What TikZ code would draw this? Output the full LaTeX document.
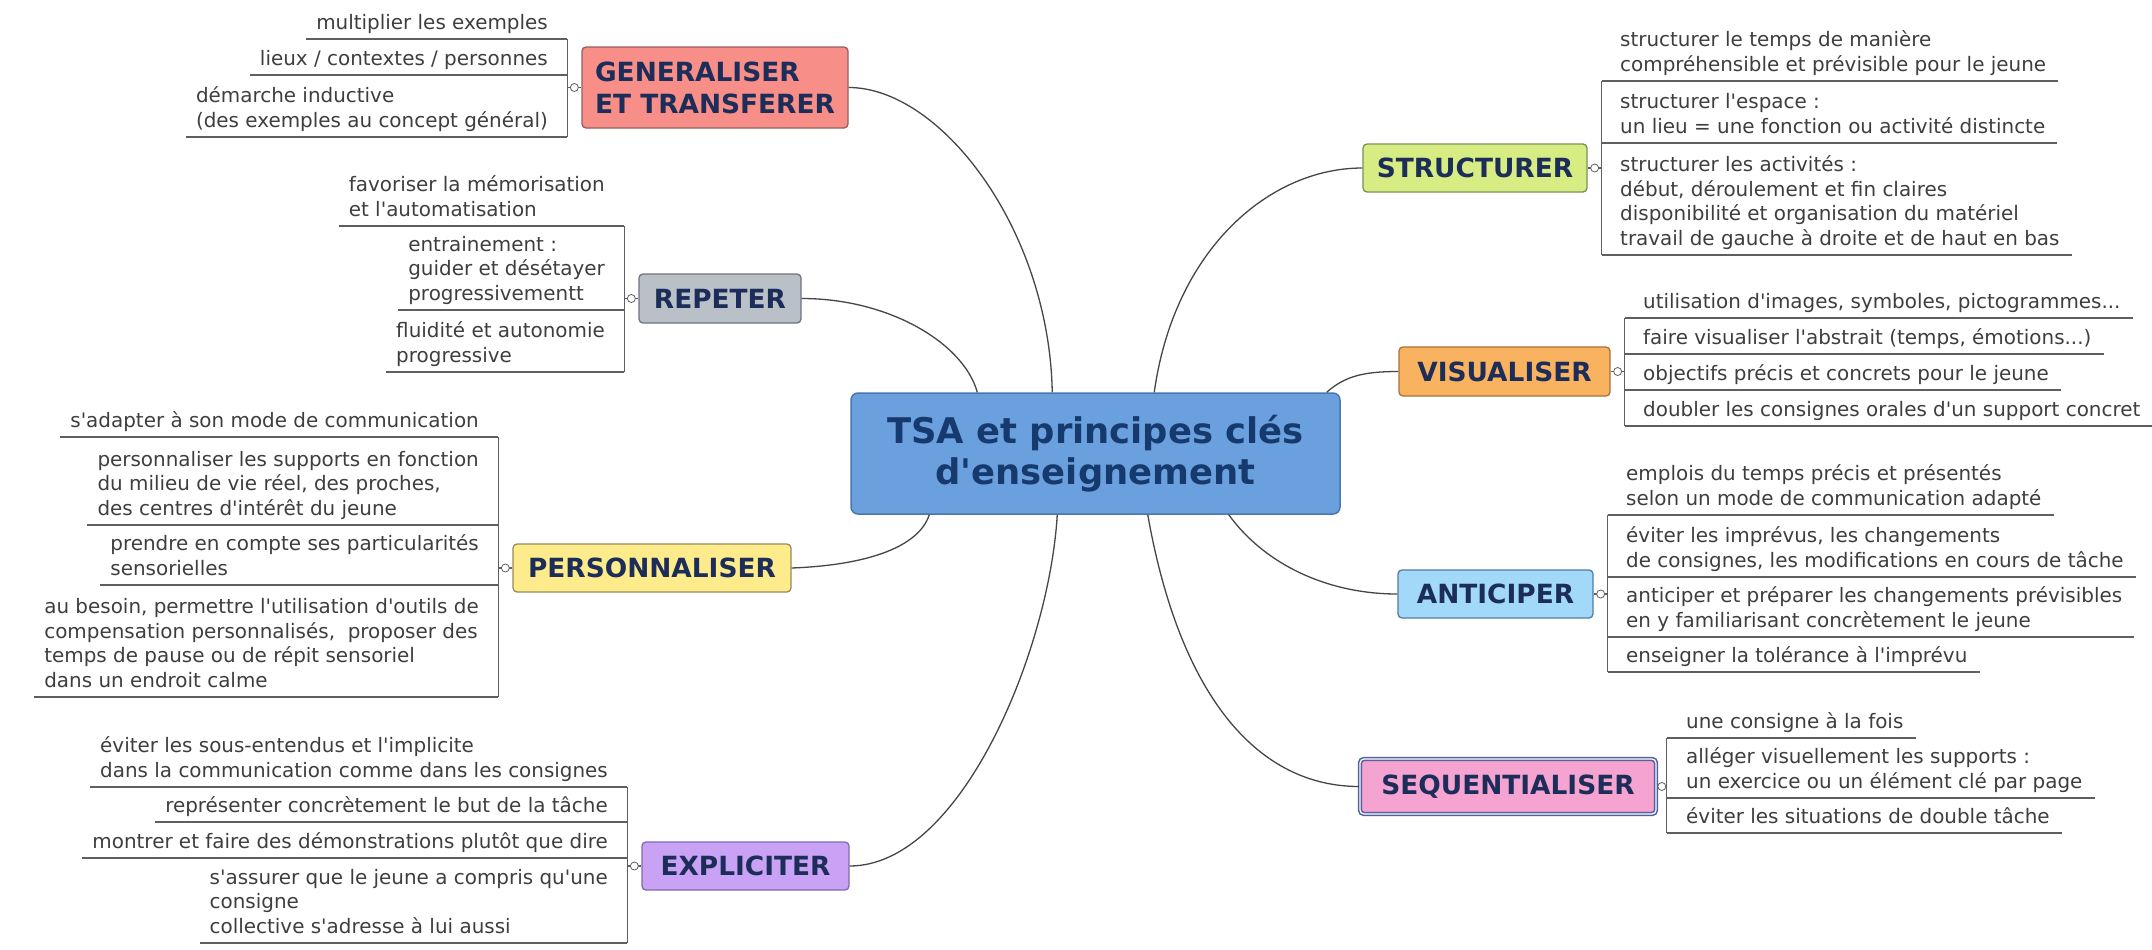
\documentclass[tikz,border=0pt]{standalone}
\usepackage{fontspec}
\setmainfont{DejaVu Sans}
\newfontfamily\dvs{DejaVu Sans}
\definecolor{cfill}{RGB}{106,160,222}
\definecolor{cdraw}{RGB}{74,118,178}
\definecolor{ctext}{RGB}{22,58,110}
\definecolor{lbl}{RGB}{27,45,88}
\definecolor{itxt}{RGB}{62,62,62}
\definecolor{ln}{RGB}{95,95,95}
\definecolor{cn}{RGB}{70,70,70}
\definecolor{genf}{RGB}{247,142,135}\definecolor{gend}{RGB}{150,95,95}
\definecolor{repf}{RGB}{186,192,200}\definecolor{repd}{RGB}{110,115,125}
\definecolor{perf}{RGB}{254,236,140}\definecolor{perd}{RGB}{150,140,90}
\definecolor{expf}{RGB}{201,162,246}\definecolor{expd}{RGB}{130,105,175}
\definecolor{strf}{RGB}{215,237,132}\definecolor{strd}{RGB}{120,145,85}
\definecolor{visf}{RGB}{248,178,96}\definecolor{visd}{RGB}{165,115,60}
\definecolor{antf}{RGB}{162,217,248}\definecolor{antd}{RGB}{80,125,165}
\definecolor{seqf}{RGB}{245,163,208}\definecolor{seqd}{RGB}{85,98,160}
\begin{document}
\begin{tikzpicture}[x=1bp,y=-1bp,
  central/.style={rectangle, rounded corners=7bp, draw=cdraw, line width=1.5bp, fill=cfill,
    minimum width=489bp, minimum height=121bp, inner sep=0pt, align=center, text=ctext,
    font=\dvs\fontsize{35.5}{41}\selectfont\bfseries},
  branch/.style={rectangle, rounded corners=4bp, line width=1.3bp, inner sep=0pt, align=left,
    text=lbl, font=\dvs\fontsize{26.5}{32}\selectfont\bfseries},
  knob/.style={circle, draw=ln, fill=white, line width=0.8bp, inner sep=0pt, minimum size=8bp},
  litem/.style={anchor=south east, inner xsep=0pt, inner ysep=1.5bp, align=left, text=itxt,
    font=\dvs\fontsize{20}{25}\selectfont},
  ritem/.style={anchor=south west, inner xsep=0pt, inner ysep=1.5bp, align=left, text=itxt,
    font=\dvs\fontsize{20}{25}\selectfont},
  uline/.style={draw=ln, line width=1.2bp},
  conn/.style={draw=cn, line width=1.3bp}]
\useasboundingbox (0,0) rectangle (2152,950);
\fill[white] (0,0) rectangle (2152,950);

% central
\node[central] (c) at (1095.5,453.5) {TSA et principes clés\\d'enseignement};

% branches
\node[branch, fill=genf, draw=gend, minimum width=266bp, minimum height=81bp] (gen) at (715,87.5) {GENERALISER\\ET TRANSFERER};
\node[branch, fill=repf, draw=repd, minimum width=162bp, minimum height=49bp] (rep) at (720,298.5) {REPETER};
\node[branch, fill=perf, draw=perd, minimum width=278bp, minimum height=48bp] (per) at (652,568) {PERSONNALISER};
\node[branch, fill=expf, draw=expd, minimum width=207bp, minimum height=48bp] (exp) at (745.5,866) {EXPLICITER};
\node[branch, fill=strf, draw=strd, minimum width=224bp, minimum height=48bp] (str) at (1475,168) {STRUCTURER};
\node[branch, fill=visf, draw=visd, minimum width=211bp, minimum height=49bp] (vis) at (1504.5,371.5) {VISUALISER};
\node[branch, fill=antf, draw=antd, minimum width=195bp, minimum height=48bp] (ant) at (1495.5,594) {ANTICIPER};
\node[branch, fill=seqf, draw=seqd, line width=1.6bp, double=white, double distance=1.2bp, minimum width=296bp, minimum height=55bp] (seq) at (1508,786.5) {SEQUENTIALISER};

% connectors centre -> branches
\draw[conn] (gen.east) .. controls +(92,0) and +(-3,-163) .. ([xshift=202bp]c.north west);
\draw[conn] (rep.east) .. controls +(89,0) and +(-13,-48) .. ([xshift=127bp]c.north west);
\draw[conn] (per.east) .. controls +(79,-3) and +(-10,31) .. ([xshift=79bp]c.south west);
\draw[conn] (exp.east) .. controls +(111,0) and +(-8,136) .. ([xshift=207bp]c.south west);
\draw[conn] ([xshift=304bp]c.north west) .. controls +(20,-143) and +(-93,0) .. (str.west);
\draw[conn] ([xshift=-14bp]c.north east) .. controls +(18,-16) and +(-35,0) .. (vis.west);
\draw[conn] ([xshift=-112bp]c.south east) .. controls +(37,51) and +(-68,0) .. (ant.west);
\draw[conn] ([xshift=-193bp]c.south east) .. controls +(33,186) and +(-99,0) .. (seq.west);

% bracket coordinates
\coordinate (gv) at ([xshift=-14bp]gen.west);
\coordinate (rv) at ([xshift=-14bp]rep.west);
\coordinate (pv) at ([xshift=-14bp]per.west);
\coordinate (ev) at ([xshift=-14bp]exp.west);
\coordinate (sv) at ([xshift=14bp]str.east);
\coordinate (vv) at ([xshift=14bp]vis.east);
\coordinate (av) at ([xshift=14bp]ant.east);
\coordinate (qv) at ([xshift=10bp]seq.east);

% GENERALISER items
\node[litem] (g1) at (548,39) {multiplier les exemples\strut};
\node[litem] (g2) at (548,75) {lieux / contextes / personnes\strut};
\node[litem] (g3) at (548,137) {démarche inductive\\(des exemples au concept général)\strut};
% REPETER items
\node[litem] (r1) at (605,226) {favoriser la mémorisation\\et l'automatisation\strut};
\node[litem] (r2) at (605,310) {entrainement :\\guider et désétayer\\progressivementt\strut};
\node[litem] (r3) at (605,372) {fluidité et autonomie\\progressive\strut};
% PERSONNALISER items
\node[litem] (p1) at (479,437) {s'adapter à son mode de communication\strut};
\node[litem] (p2) at (479,525) {personnaliser les supports en fonction\\du milieu de vie réel, des proches,\\des centres d'intérêt du jeune\strut};
\node[litem] (p3) at (479,585) {prendre en compte ses particularités\\sensorielles\strut};
\node[litem] (p4) at (479,697) {au besoin, permettre l'utilisation d'outils de\\compensation personnalisés,\ \ proposer des\\temps de pause ou de répit sensoriel\\dans un endroit calme\strut};
% EXPLICITER items
\node[litem] (e1) at (608,787) {éviter les sous-entendus et l'implicite\\dans la communication comme dans les consignes\strut};
\node[litem] (e2) at (608,822) {représenter concrètement le but de la tâche\strut};
\node[litem] (e3) at (608,858) {montrer et faire des démonstrations plutôt que dire\strut};
\node[litem] (e4) at (608,943) {s'assurer que le jeune a compris qu'une\\consigne\\collective s'adresse à lui aussi\strut};
% STRUCTURER items
\node[ritem] (s1) at (1620,81) {structurer le temps de manière\\compréhensible et prévisible pour le jeune\strut};
\node[ritem] (s2) at (1620,143) {structurer l'espace :\\un lieu = une fonction ou activité distincte\strut};
\node[ritem] (s3) at (1620,255) {structurer les activités :\\début, déroulement et fin claires\\disponibilité et organisation du matériel\\travail de gauche à droite et de haut en bas\strut};
% VISUALISER items
\node[ritem] (v1) at (1643,318) {utilisation d'images, symboles, pictogrammes...\strut};
\node[ritem] (v2) at (1643,354) {faire visualiser l'abstrait (temps, émotions...)\strut};
\node[ritem] (v3) at (1643,390) {objectifs précis et concrets pour le jeune\strut};
\node[ritem] (v4) at (1643,426) {doubler les consignes orales d'un support concret\strut};
% ANTICIPER items
\node[ritem] (a1) at (1626,515) {emplois du temps précis et présentés\\selon un mode de communication adapté\strut};
\node[ritem] (a2) at (1626,577) {éviter les imprévus, les changements\\de consignes, les modifications en cours de tâche\strut};
\node[ritem] (a3) at (1626,637) {anticiper et préparer les changements prévisibles\\en y familiarisant concrètement le jeune\strut};
\node[ritem] (a4) at (1626,672) {enseigner la tolérance à l'imprévu\strut};
% SEQUENTIALISER items
\node[ritem] (q1) at (1686,738) {une consigne à la fois\strut};
\node[ritem] (q2) at (1686,798) {alléger visuellement les supports :\\un exercice ou un élément clé par page\strut};
\node[ritem] (q3) at (1686,833) {éviter les situations de double tâche\strut};

% underlines, left side
\foreach \n/\v in {g1/gv,g2/gv,g3/gv,r1/rv,r2/rv,r3/rv,p1/pv,p2/pv,p3/pv,p4/pv,e1/ev,e2/ev,e3/ev,e4/ev}
  \draw[uline] ([xshift=-10bp]\n.south west) -- (\n.south -| \v);
% underlines, right side
\foreach \n/\v in {s1/sv,s2/sv,s3/sv,v1/vv,v2/vv,v3/vv,v4/vv,a1/av,a2/av,a3/av,a4/av,q1/qv,q2/qv,q3/qv}
  \draw[uline] (\n.south -| \v) -- ([xshift=12bp]\n.south east);
% brackets
\draw[uline] (g1.south -| gv) -- (g3.south -| gv);
\draw[uline] (r1.south -| rv) -- (r3.south -| rv);
\draw[uline] (p1.south -| pv) -- (p4.south -| pv);
\draw[uline] (e1.south -| ev) -- (e4.south -| ev);
\draw[uline] (s1.south -| sv) -- (s3.south -| sv);
\draw[uline] (v1.south -| vv) -- (v4.south -| vv);
\draw[uline] (a1.south -| av) -- (a4.south -| av);
\draw[uline] (q1.south -| qv) -- (q3.south -| qv);
% stubs to branches
\draw[uline] (gv |- gen.west) -- (gen.west);
\draw[uline] (rv |- rep.west) -- (rep.west);
\draw[uline] (pv |- per.west) -- (per.west);
\draw[uline] (ev |- exp.west) -- (exp.west);
\draw[uline] (sv |- str.east) -- (str.east);
\draw[uline] (vv |- vis.east) -- (vis.east);
\draw[uline] (av |- ant.east) -- (ant.east);
\draw[uline] (qv |- seq.east) -- (seq.east);
% collapse knobs
\node[knob] (gk) at ([xshift=-7bp]gen.west) {};
\node[knob] (rk) at ([xshift=-7bp]rep.west) {};
\node[knob] (pk) at ([xshift=-7bp]per.west) {};
\node[knob] (ek) at ([xshift=-7bp]exp.west) {};
\node[knob] (sk) at ([xshift=7bp]str.east) {};
\node[knob] (vk) at ([xshift=7bp]vis.east) {};
\node[knob] (ak) at ([xshift=7bp]ant.east) {};
\node[knob] (qk) at ([xshift=5bp]seq.east) {};
\end{tikzpicture}
\end{document}
